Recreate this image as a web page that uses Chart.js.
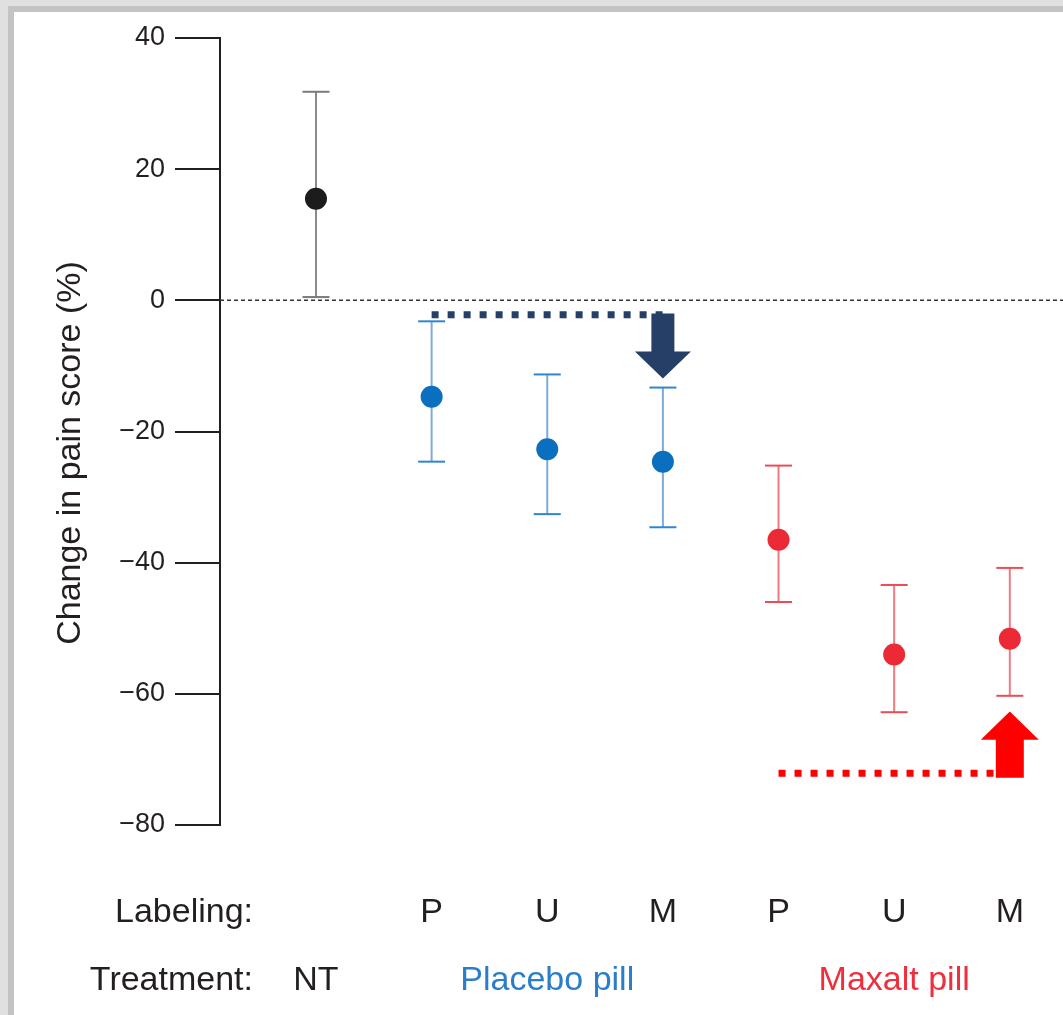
<!DOCTYPE html>
<html>
<head>
<meta charset="utf-8">
<title>Change in pain score</title>
<script src="https://cdn.jsdelivr.net/npm/chart.js@4.4.1/dist/chart.umd.min.js"></script>
<style>
html,body{margin:0;padding:0;background:#fff;overflow:hidden}
#wrap{position:relative;width:1063px;height:1015px}
</style>
</head>
<body>
<div id="wrap"><canvas id="painChart"></canvas></div>
<script>
const labeling = ["", "P", "U", "M", "P", "U", "M"]
const groupOf = [0, 1, 1, 1, 2, 2, 2]
const treatments = ["NT", "Placebo pill", "Maxalt pill"]
const treatmentAt = [0, 2, 5]
const meanChange = [15.5, -14.7, -22.7, -24.6, -36.5, -54.0, -51.6]
const errLow = [0.5, -24.6, -32.6, -34.6, -46.0, -62.8, -60.3]
const errHigh = [31.8, -3.2, -11.3, -13.3, -25.2, -43.4, -40.8]
const yTicks = [40, 20, 0, -20, -40, -60, -80]

// arrows drawn on top of the figure (x index, y values)
const navyLine = { from: 1, to: 3, y: -2.2 }
const navyArrow = { x: 3, tail: -2.0, neck: -7.8, tip: -11.9 }
const redLine = { from: 4, to: 6, y: -72.1 }
const redArrow = { x: 6, tail: -72.8, neck: -67.0, tip: -62.7 }

const FONT = "'Liberation Sans', Arial, Helvetica, sans-serif"
const pointColors = ["#1c1c1c", "#0a6fbf", "#ec2a35"]
const barColors = ["#8a8a8a", "#7fabdb", "#f07a82"]
const capColors = ["#7a7a7a", "#2f86d0", "#ea4d56"]
const textColors = ["#231f20", "#2a7dc8", "#ef2f3c"]

const idx = meanChange.map((_, i) => i)

function barData(g){
const out = []
idx.filter(i => groupOf[i] === g).forEach(i => {
out.push({ x: i, y: errLow[i] }, { x: i, y: errHigh[i] }, { x: i, y: null })
})
return out
}

function capData(g){
const out = []
idx.filter(i => groupOf[i] === g).forEach(i => {
out.push({ x: i, y: errLow[i] }, { x: i, y: errHigh[i] })
})
return out
}

const datasets = []

treatments.forEach((t, g) => {
datasets.push({
type: "scatter",
label: t,
data: idx.filter(i => groupOf[i] === g).map(i => ({ x: i, y: meanChange[i] })),
backgroundColor: pointColors[g],
borderWidth: 0,
pointRadius: 11,
order: 0
})
datasets.push({
type: "scatter",
label: t + " caps",
data: capData(g),
pointStyle: "line",
pointRadius: 13.5,
borderColor: capColors[g],
borderWidth: 2,
order: 1
})
datasets.push({
type: "line",
label: t + " bars",
data: barData(g),
borderColor: barColors[g],
borderWidth: 2,
pointRadius: 0,
spanGaps: false,
order: 2
})
})

datasets.push({
type: "line",
label: "zero",
data: [{ x: -0.83, y: 0 }, { x: 6.46, y: 0 }],
borderColor: "#333",
borderWidth: 1.5,
borderDash: [4, 3],
pointRadius: 0,
order: 3
})

function arrow(ctx, xs, ys, a, color, sw, hw){
const x = xs.getPixelForValue(a.x)
const tail = ys.getPixelForValue(a.tail)
const neck = ys.getPixelForValue(a.neck)
const tip = ys.getPixelForValue(a.tip)
ctx.beginPath()
ctx.moveTo(x - sw, tail)
ctx.lineTo(x + sw, tail)
ctx.lineTo(x + sw, neck)
ctx.lineTo(x + hw, neck)
ctx.lineTo(x, tip)
ctx.lineTo(x - hw, neck)
ctx.lineTo(x - sw, neck)
ctx.closePath()
ctx.fillStyle = color
ctx.fill()
}

function dotted(ctx, xs, ys, l, color){
ctx.save()
ctx.beginPath()
ctx.setLineDash([7, 9])
ctx.lineCap = "butt"
ctx.lineWidth = 7
ctx.strokeStyle = color
const y = ys.getPixelForValue(l.y)
ctx.moveTo(xs.getPixelForValue(l.from), y)
ctx.lineTo(xs.getPixelForValue(l.to), y)
ctx.stroke()
ctx.restore()
}

const decor = {
id: "decor",
beforeDraw(chart){
const ctx = chart.ctx
ctx.save()
ctx.fillStyle = "#fff"
ctx.fillRect(0, 0, chart.width, chart.height)
ctx.fillStyle = "#e0e0e0"
ctx.fillRect(0, 0, chart.width, 6)
ctx.fillRect(0, 0, 8, chart.height)
ctx.fillStyle = "#c3c3c3"
ctx.fillRect(8, 6, chart.width - 8, 6)
ctx.fillRect(8, 6, 6, chart.height - 6)
ctx.restore()
},
afterDraw(chart){
const ctx = chart.ctx
const xs = chart.scales.x
const ys = chart.scales.y
ctx.save()

dotted(ctx, xs, ys, navyLine, "#263f66")
arrow(ctx, xs, ys, navyArrow, "#263f66", 11.5, 28)
dotted(ctx, xs, ys, redLine, "#ff0000")
arrow(ctx, xs, ys, redArrow, "#ff0000", 14, 29)

ctx.fillStyle = "#231f20"
ctx.font = "34px " + FONT
ctx.textBaseline = "alphabetic"
ctx.textAlign = "right"
ctx.fillText("Labeling:", 253, 922)
ctx.fillText("Treatment:", 253, 990)

ctx.textAlign = "center"
labeling.forEach((l, i) => {
if (l) ctx.fillText(l, xs.getPixelForValue(i), 922)
})
treatments.forEach((t, g) => {
ctx.fillStyle = textColors[g]
ctx.fillText(t, xs.getPixelForValue(treatmentAt[g]), 990)
})

ctx.translate(71, 453)
ctx.rotate(-Math.PI / 2)
ctx.fillStyle = "#231f20"
ctx.textBaseline = "middle"
ctx.fillText("Change in pain score (%)", 0, 0)
ctx.restore()
}
}

new Chart(document.getElementById("painChart"), {
data: { datasets },
options: {
responsive: true,
maintainAspectRatio: false,
animation: false,
events: [],
layout: { autoPadding: false, padding: { left: 52, top: 38, right: 0, bottom: 190 } },
plugins: { legend: { display: false }, tooltip: { enabled: false } },
scales: {
x: {
type: "linear",
min: -0.83,
max: 6.46,
display: false,
ticks: { display: false }
},
y: {
type: "linear",
min: -80,
max: 40,
afterFit: s => { s.width = 168 },
afterBuildTicks: s => { s.ticks = yTicks.map(v => ({ value: v })) },
grid: {
drawOnChartArea: false,
drawTicks: true,
tickLength: 45,
color: "#231f20",
lineWidth: 2
},
border: { display: true, color: "#231f20", width: 2 },
ticks: {
padding: 10,
color: "#231f20",
font: { family: FONT, size: 27 },
callback: v => String(v).replace("-", "\u2212")
}
}
}
},
plugins: [decor]
})
</script>
</body>
</html>
